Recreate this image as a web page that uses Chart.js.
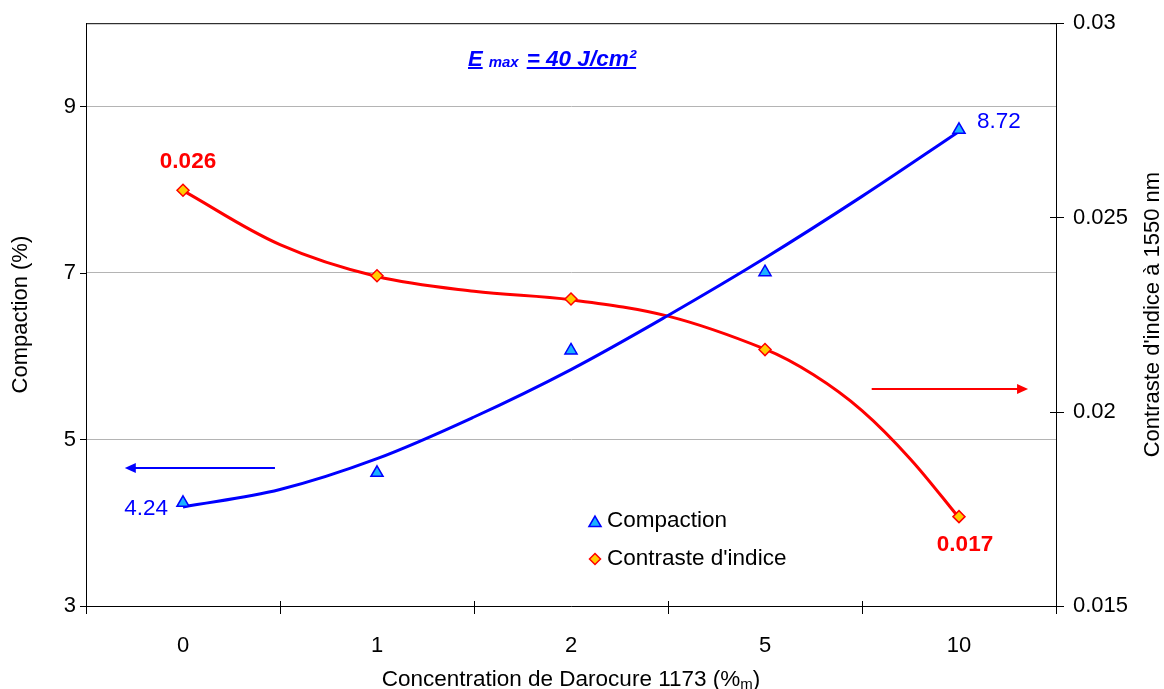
<!DOCTYPE html>
<html>
<head>
<meta charset="utf-8">
<script src="https://cdn.jsdelivr.net/npm/chart.js@4.4.1/dist/chart.umd.min.js"></script>
<style>
  html, body { margin: 0; padding: 0; background: #fff; }
  #wrap { width: 1164px; height: 689px; position: relative; }
</style>
</head>
<body>
<div id="wrap"><canvas id="c"></canvas></div>
<script>
// ---- data ----
const categories = ['0', '1', '2', '5', '10'];
const seriesNames = ['Compaction', "Contraste d'indice"];
const compaction = [4.24, 4.60, 6.07, 7.01, 8.72];
const contraste = [0.0257, 0.0235, 0.0229, 0.0216, 0.0173];
// trend curves (at fractional category positions)
const compactionTrendPos = [0, 0.5, 1, 1.5, 2, 2.5, 3, 3.5, 4];
const compactionTrend = [4.19, 4.40, 4.77, 5.27, 5.84, 6.49, 7.18, 7.92, 8.70];
const contrasteTrendPos = [0, 0.5, 1, 1.5, 2, 2.5, 3, 3.25, 3.5, 3.75, 4];
const contrasteTrend = [0.02569, 0.02430, 0.02348, 0.02310, 0.02288, 0.02246, 0.02161, 0.02095, 0.02003, 0.01878, 0.01727];
const leftTicks = [3, 5, 7, 9];
const rightTicks = [0.015, 0.02, 0.025, 0.03];
const leftTitle = 'Compaction (%)';
const rightTitle = "Contraste d'indice à 1550 nm";
const xTitleMain = 'Concentration de Darocure 1173 (%';
const xTitleSub = 'm';
const xTitleEnd = ')';
const titleE = 'E';
const titleSub = 'max';
const titleRest = '= 40 J/cm²';
// arrows: [fromPos, toPos, value]
const blueArrow = [0.474, -0.30, 4.66];
const redArrow = [3.55, 4.356, 0.02059];

const FONT = '"Liberation Sans", Arial, Helvetica, sans-serif';
const BLUE = '#0000ff';
const RED = '#ff0000';

const pts = (xs, ys) => xs.map((x, i) => ({ x: x, y: ys[i] }));
const idx = categories.map((_, i) => i);

function arrow(ctx, x1, y, x2, color) {
  const dir = Math.sign(x2 - x1);
  ctx.save();
  ctx.strokeStyle = color; ctx.fillStyle = color; ctx.lineWidth = 2;
  ctx.beginPath(); ctx.moveTo(x1, y); ctx.lineTo(x2 - dir * 8, y); ctx.stroke();
  ctx.beginPath();
  ctx.moveTo(x2, y); ctx.lineTo(x2 - dir * 11, y - 5); ctx.lineTo(x2 - dir * 11, y + 5);
  ctx.closePath(); ctx.fill();
  ctx.restore();
}

function triangle(ctx, cx, cy, r) {
  ctx.beginPath();
  ctx.moveTo(cx, cy - r);
  ctx.lineTo(cx + r * 0.866, cy + r * 0.5);
  ctx.lineTo(cx - r * 0.866, cy + r * 0.5);
  ctx.closePath(); ctx.fill(); ctx.stroke();
}
function diamond(ctx, cx, cy, r) {
  ctx.beginPath();
  ctx.moveTo(cx, cy - r); ctx.lineTo(cx + r, cy); ctx.lineTo(cx, cy + r); ctx.lineTo(cx - r, cy);
  ctx.closePath(); ctx.fill(); ctx.stroke();
}

const deco = {
  id: 'deco',
  beforeDatasetsDraw(chart) {
    const { ctx, chartArea: a, scales: { x, y, y2 } } = chart;
    ctx.save();
    ctx.strokeStyle = '#000'; ctx.lineWidth = 1;
    ctx.beginPath(); ctx.moveTo(a.left, a.top + 0.5); ctx.lineTo(a.right, a.top + 0.5); ctx.stroke();
    leftTicks.forEach(v => {
      const py = Math.round(y.getPixelForValue(v)) + 0.5;
      ctx.beginPath(); ctx.moveTo(a.left - 6, py); ctx.lineTo(a.left, py); ctx.stroke();
    });
    rightTicks.forEach(v => {
      const py = Math.round(y2.getPixelForValue(v)) + 0.5;
      ctx.beginPath(); ctx.moveTo(a.right - 6, py); ctx.lineTo(a.right + 8, py); ctx.stroke();
    });
    for (let i = 0; i <= categories.length; i++) {
      const px = Math.round(x.getPixelForValue(i - 0.5)) + 0.5;
      ctx.beginPath(); ctx.moveTo(px, a.bottom - 5); ctx.lineTo(px, a.bottom + 8); ctx.stroke();
    }
    ctx.restore();
  },
  afterDraw(chart) {
    const { ctx, chartArea: a, scales: { x, y, y2 } } = chart;
    ctx.save();
    ctx.fillStyle = '#000';
    ctx.font = '22px ' + FONT;
    ctx.textAlign = 'center'; ctx.textBaseline = 'middle';
    const cy = (a.top + a.bottom) / 2;
    ctx.save(); ctx.translate(21, cy); ctx.rotate(-Math.PI / 2); ctx.fillText(leftTitle, 0, 0); ctx.restore();
    ctx.save(); ctx.translate(1153, cy); ctx.rotate(-Math.PI / 2); ctx.fillText(rightTitle, 0, 0); ctx.restore();
    // x title with subscript
    ctx.textAlign = 'left'; ctx.textBaseline = 'alphabetic';
    const big = '22.5px ' + FONT, small = '15px ' + FONT;
    ctx.font = big;
    const w1 = ctx.measureText(xTitleMain).width;
    const w3 = ctx.measureText(xTitleEnd).width;
    ctx.font = small;
    const w2 = ctx.measureText(xTitleSub).width;
    const cx = (a.left + a.right) / 2;
    const sx = cx - (w1 + w2 + w3) / 2;
    const by = 686;
    ctx.font = big; ctx.fillText(xTitleMain, sx, by);
    ctx.font = small; ctx.fillText(xTitleSub, sx + w1, by + 3);
    ctx.font = big; ctx.fillText(xTitleEnd, sx + w1 + w2, by);

    // E max title
    ctx.fillStyle = BLUE;
    let tx = a.left + 382; const tb = 66;
    ctx.font = 'italic bold 22px ' + FONT;
    const we = ctx.measureText(titleE).width;
    ctx.fillText(titleE, tx, tb);
    ctx.fillRect(tx, tb + 1, we, 2);
    tx += we + 6;
    ctx.font = 'italic bold 15px ' + FONT;
    const wm = ctx.measureText(titleSub).width;
    ctx.fillText(titleSub, tx, tb + 1);
    tx += wm + 8;
    ctx.font = 'italic bold 22.5px ' + FONT;
    const wr = ctx.measureText(titleRest).width;
    ctx.fillText(titleRest, tx, tb);
    ctx.fillRect(tx, tb + 1, wr, 2);

    // data labels
    const last = categories.length - 1;
    ctx.font = '22.5px ' + FONT; ctx.fillStyle = BLUE; ctx.textBaseline = 'middle';
    ctx.textAlign = 'right';
    ctx.fillText(compaction[0].toFixed(2), x.getPixelForValue(0) - 15, y.getPixelForValue(compaction[0]) + 6);
    ctx.textAlign = 'left';
    ctx.fillText(compaction[last].toFixed(2), x.getPixelForValue(last) + 18, y.getPixelForValue(compaction[last]) - 8);
    ctx.font = 'bold 22.5px ' + FONT; ctx.fillStyle = RED; ctx.textAlign = 'center';
    ctx.fillText(contraste[0].toFixed(3), x.getPixelForValue(0) + 5, y2.getPixelForValue(contraste[0]) - 28);
    ctx.fillText(contraste[last].toFixed(3), x.getPixelForValue(last) + 6, y2.getPixelForValue(contraste[last]) + 28);

    // arrows
    arrow(ctx, x.getPixelForValue(blueArrow[0]), Math.round(y.getPixelForValue(blueArrow[2])), x.getPixelForValue(blueArrow[1]), BLUE);
    arrow(ctx, x.getPixelForValue(redArrow[0]), Math.round(y2.getPixelForValue(redArrow[2])), x.getPixelForValue(redArrow[1]), RED);

    // legend
    const lx = a.left + 509;
    ctx.lineWidth = 1.5;
    ctx.fillStyle = '#1ab2ff'; ctx.strokeStyle = BLUE;
    triangle(ctx, lx, 523, 7);
    ctx.fillStyle = '#ffcc00'; ctx.strokeStyle = RED;
    diamond(ctx, lx, 559, 5.5);
    ctx.fillStyle = '#000'; ctx.font = '22.5px ' + FONT; ctx.textAlign = 'left'; ctx.textBaseline = 'middle';
    ctx.fillText(seriesNames[0], lx + 12, 521);
    ctx.fillText(seriesNames[1], lx + 12, 559);
    ctx.restore();
  }
};

new Chart(document.getElementById('c'), {
  type: 'line',
  data: {
    datasets: [
      {
        label: seriesNames[0], data: pts(idx, compaction), yAxisID: 'y', showLine: false,
        pointStyle: 'triangle', pointRadius: 7, backgroundColor: '#1ab2ff', borderColor: BLUE, borderWidth: 1.5, order: 0
      },
      {
        label: seriesNames[1], data: pts(idx, contraste), yAxisID: 'y2', showLine: false,
        pointStyle: 'rectRot', pointRadius: 6, backgroundColor: '#ffcc00', borderColor: RED, borderWidth: 1.5, order: 0
      },
      {
        label: 'trend1', data: pts(compactionTrendPos, compactionTrend), yAxisID: 'y',
        borderColor: BLUE, borderWidth: 3, pointRadius: 0, tension: 0.35, fill: false, order: 1
      },
      {
        label: 'trend2', data: pts(contrasteTrendPos, contrasteTrend), yAxisID: 'y2',
        borderColor: RED, borderWidth: 3, pointRadius: 0, tension: 0.35, fill: false, order: 1
      }
    ]
  },
  options: {
    responsive: true, maintainAspectRatio: false, animation: false,
    layout: { padding: { top: 10, left: 0, right: 0, bottom: 0 } },
    plugins: { legend: { display: false }, tooltip: { enabled: false } },
    scales: {
      x: {
        type: 'linear', min: -0.5, max: 4.5, position: 'bottom',
        afterBuildTicks: s => { s.ticks = idx.map(i => ({ value: i })); },
        afterFit: s => { s.height = 83; },
        ticks: { callback: v => categories[v], color: '#000', font: { size: 22, family: FONT }, padding: 19, autoSkip: false, maxRotation: 0 },
        grid: { display: false },
        border: { display: true, color: '#000', width: 1 }
      },
      y: {
        type: 'linear', position: 'left', min: 3, max: 10,
        afterBuildTicks: s => { s.ticks = leftTicks.map(v => ({ value: v })); },
        afterFit: s => { s.width = 86; },
        ticks: { color: '#000', font: { size: 22, family: FONT }, padding: 10 },
        grid: { color: '#b4b4b4', lineWidth: 1, drawTicks: false },
        border: { display: true, color: '#000', width: 1 }
      },
      y2: {
        type: 'linear', position: 'right', min: 0.015, max: 0.03,
        afterBuildTicks: s => { s.ticks = rightTicks.map(v => ({ value: v })); },
        afterFit: s => { s.width = 108; },
        ticks: { color: '#000', font: { size: 22, family: FONT }, padding: 9, callback: v => String(+v.toFixed(3)) },
        grid: { display: false },
        border: { display: true, color: '#000', width: 1 }
      }
    }
  },
  plugins: [deco]
});
</script>
</body>
</html>
